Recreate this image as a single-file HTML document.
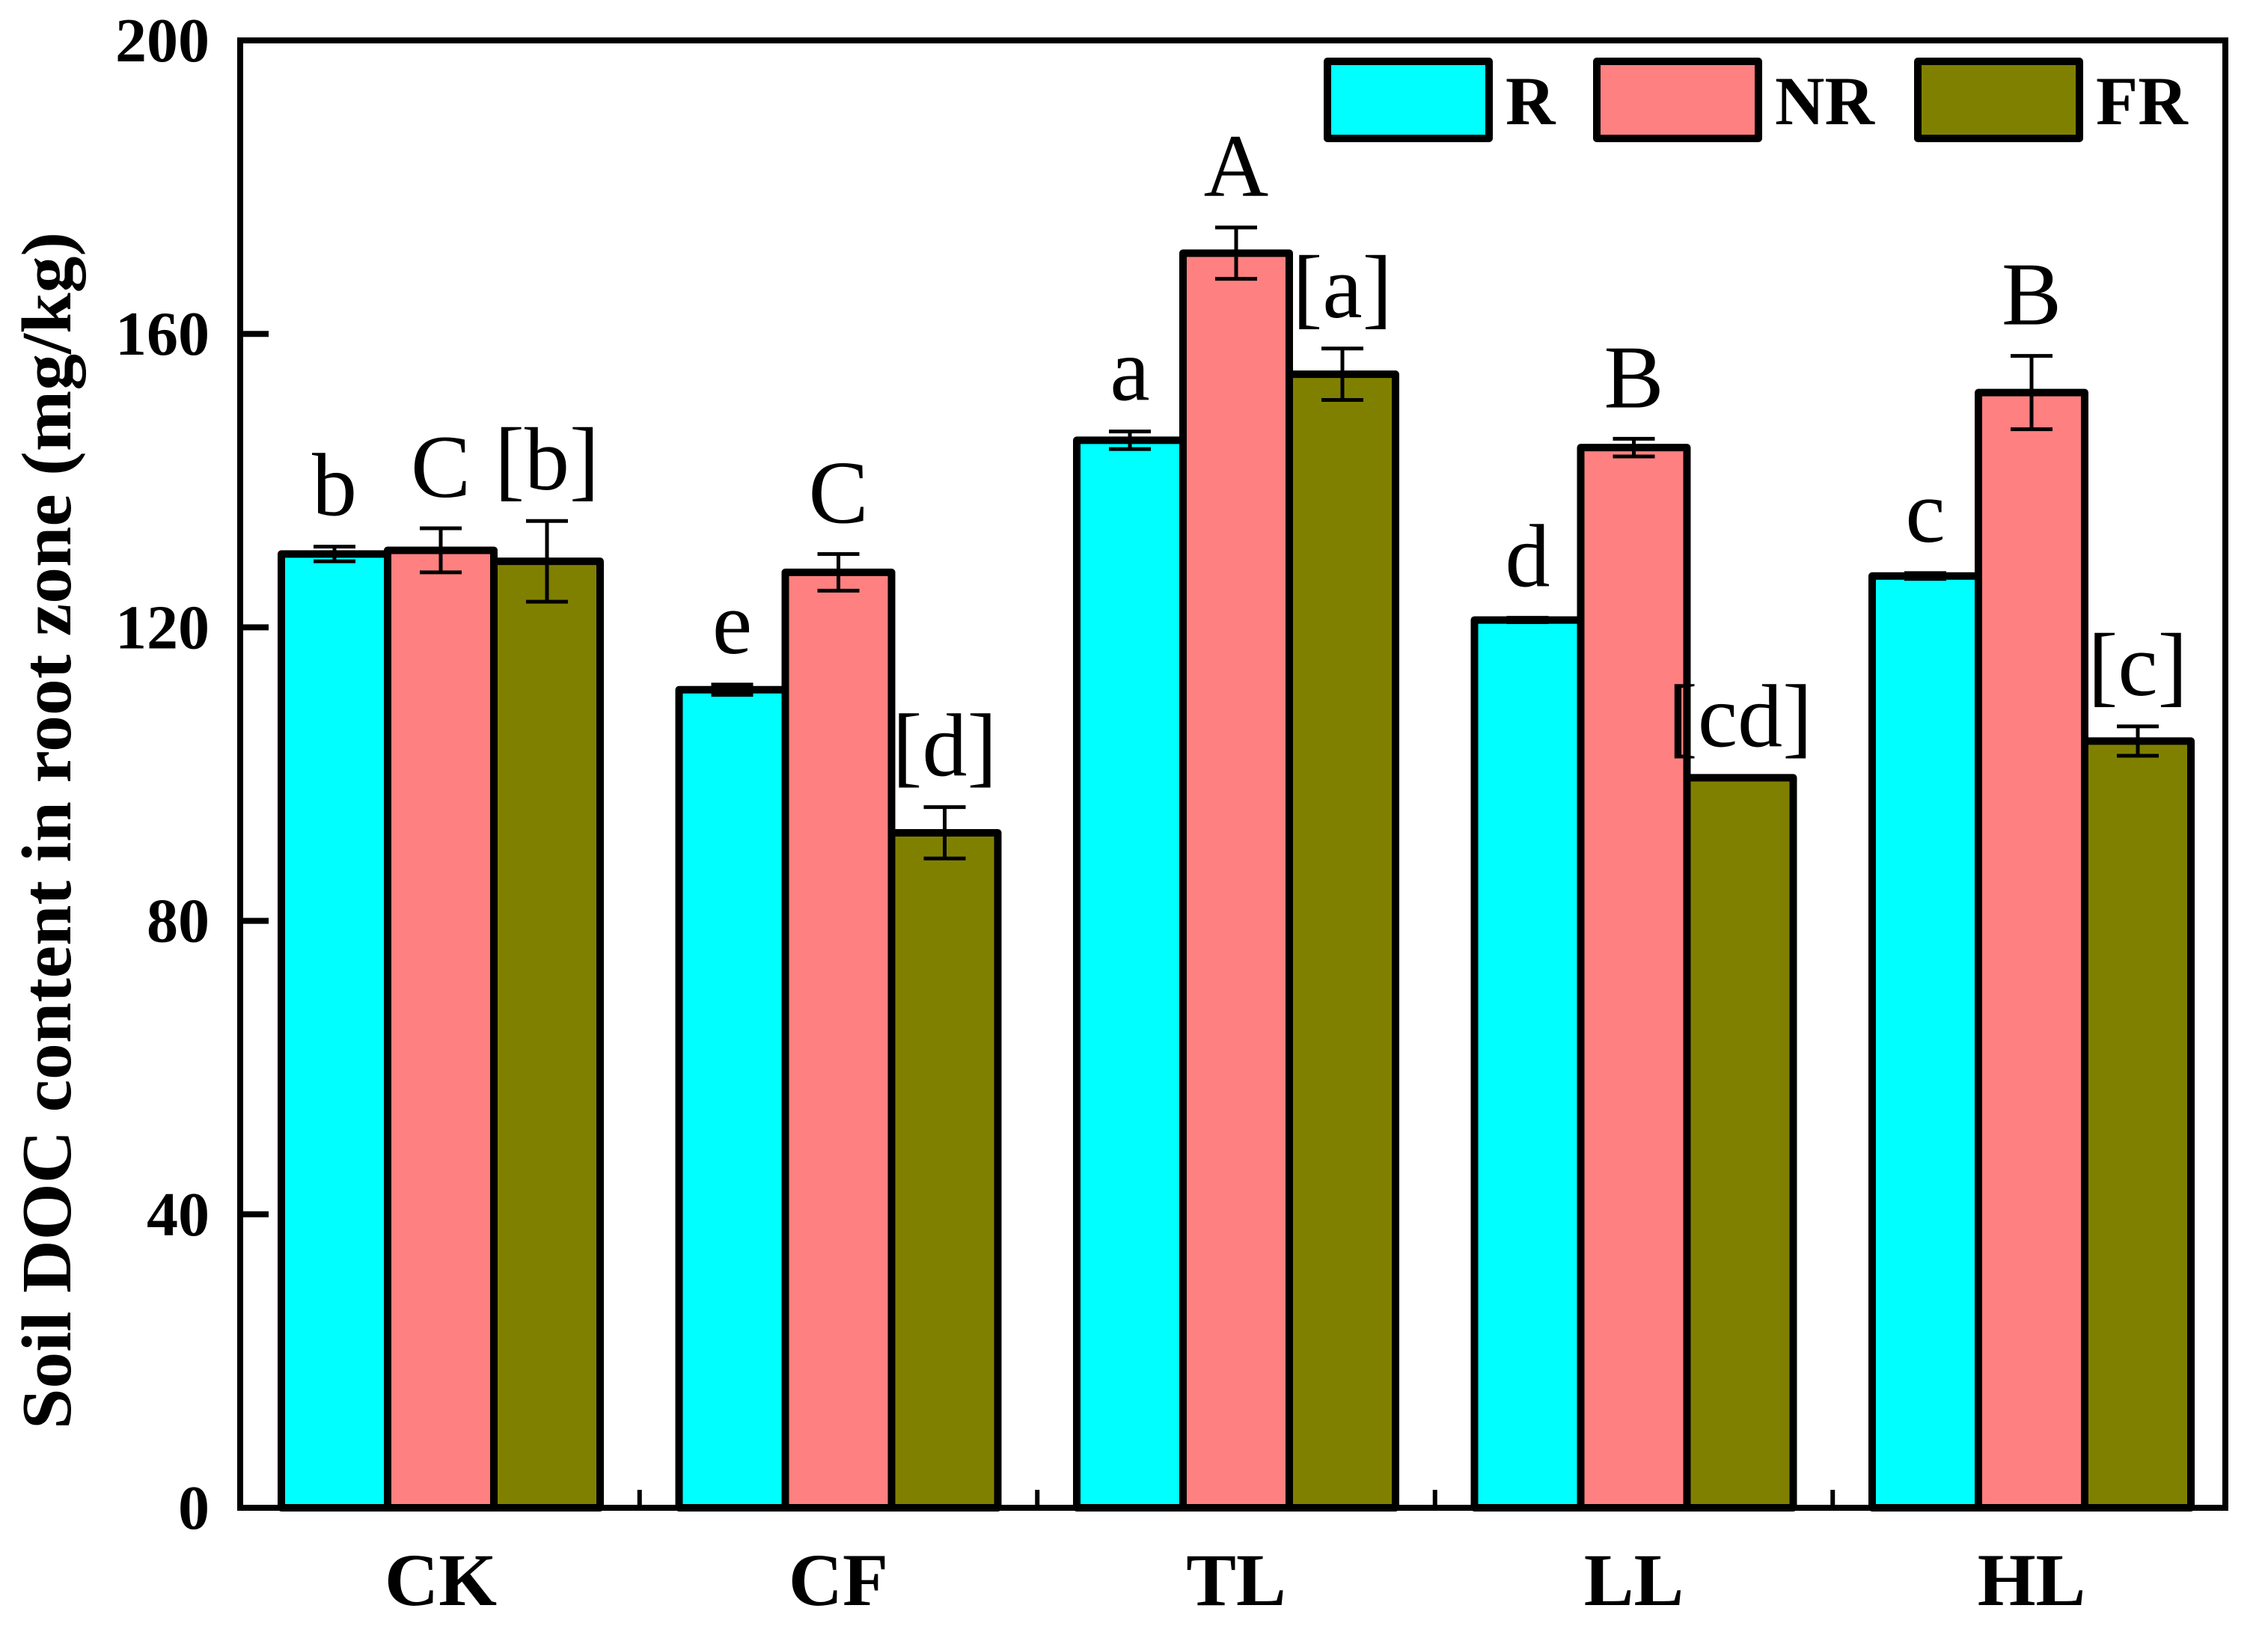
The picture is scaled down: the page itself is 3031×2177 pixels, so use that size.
<!DOCTYPE html>
<html><head><meta charset="utf-8"><style>
html,body{margin:0;padding:0;background:#fff;width:3031px;height:2177px;overflow:hidden}
svg{display:block}
text{font-family:"Liberation Serif","DejaVu Serif",serif}
</style></head><body>
<svg id="chart" width="3031" height="2177" viewBox="0 0 3031 2177" xmlns="http://www.w3.org/2000/svg">
<g id="plot"></g>
</svg>
<script>
const categories = ["CK","CF","TL","LL","HL"];
const seriesNames = ["R","NR","FR"];
const seriesColors = ["#00ffff","#ff8080","#808000"];
const valuesR  = [130, 111.5, 145.5, 121, 127];
const valuesNR = [130.5, 127.5, 171, 144.5, 152];
const valuesFR = [129, 92, 154.5, 99.5, 104.5];
const errR  = [1, 0.7, 1.2, 0.3, 0.4];
const errNR = [3, 2.5, 3.5, 1.2, 5];
const errFR = [5.5, 3.5, 3.5, 0, 2];
const lettersR  = ["b","e","a","d","c"];
const lettersNR = ["C","C","A","B","B"];
const lettersFR = ["[b]","[d]","[a]","[cd]","[c]"];
const yTicks = [0,40,80,120,160,200];

const NS="http://www.w3.org/2000/svg";
const g=document.getElementById('plot');
const L=321,R=2974,T=54,B=2015;
const yMin=0,yMax=200;
function y(v){return B-(v-yMin)/(yMax-yMin)*(B-T);}
const step=531.5;
const x0=589;
function xc(i){return x0+step*i;}
const bw=142;
function mk(tag,attrs){const e=document.createElementNS(NS,tag);for(const k in attrs)e.setAttribute(k,attrs[k]);g.appendChild(e);return e;}

const vals=[valuesR,valuesNR,valuesFR], errs=[errR,errNR,errFR], lets=[lettersR,lettersNR,lettersFR];
for(let s=0;s<3;s++){
  for(let i=0;i<categories.length;i++){
    const cx=xc(i)+(s-1)*bw;
    const v=vals[s][i], e=errs[s][i];
    const r=mk('rect',{x:cx-bw/2,y:y(v),width:bw,height:B-y(v),fill:seriesColors[s],stroke:'#000','stroke-width':10,'stroke-linejoin':'round'});
    
    
    const eb=mk('path',{d:`M${cx-28},${y(v+e)}H${cx+28}M${cx},${y(v+e)}V${y(v-e)}M${cx-28},${y(v-e)}H${cx+28}`,stroke:'#000','stroke-width':5,fill:'none'});
    
    
    const t=mk('text',{x:cx,y:y(v+e)-42,'text-anchor':'middle','font-size':120});
    t.textContent=lets[s][i];
    
    
  }
}
const fr=mk('rect',{x:L,y:T,width:R-L,height:B-T,fill:'none',stroke:'#000','stroke-width':8});


yTicks.forEach(v=>{
  const tk=mk('line',{x1:L,x2:L+38,y1:y(v),y2:y(v),stroke:'#000','stroke-width':8});
  
  
  const t=mk('text',{x:280,y:y(v)+28,'text-anchor':'end','font-size':84,'font-weight':'bold'});
  t.textContent=v;
  
  
});
categories.forEach((c,i)=>{
  if(i>0){
    const mx=(xc(i)+xc(i-1))/2;
    const tk=mk('line',{x1:mx,x2:mx,y1:B,y2:B-24,stroke:'#000','stroke-width':6});
    
    
  }
  const t=mk('text',{x:xc(i),y:2145,'text-anchor':'middle','font-size':100,'font-weight':'bold'});
  t.textContent=c;
  
  
});
const yt=mk('text',{transform:'translate(94,1110) rotate(-90)','text-anchor':'middle','font-size':94,'font-weight':'bold',textLength:1600,lengthAdjust:'spacingAndGlyphs'});
yt.textContent='Soil DOC content in root zone (mg/kg)';


const legX=[1774,2134,2563];
seriesNames.forEach((n,s)=>{
  const r=mk('rect',{x:legX[s],y:82,width:216,height:103,fill:seriesColors[s],stroke:'#000','stroke-width':10,'stroke-linejoin':'round'});
  
  
  const t=mk('text',{x:legX[s]+238,y:166,'font-size':92,'font-weight':'bold'});
  t.textContent=n;
  
  
});
</script>
</body></html>
